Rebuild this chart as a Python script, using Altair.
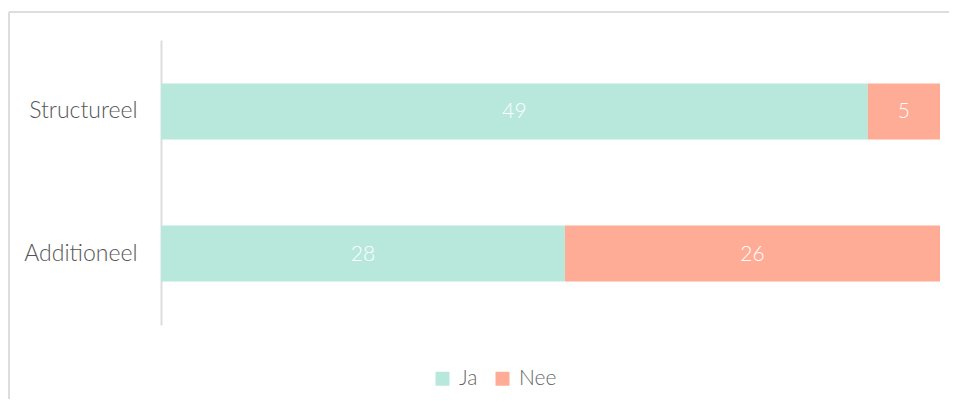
import altair as alt
import pandas as pd

categories = ["Structureel", "Structureel", "Additioneel", "Additioneel"]
answers = ["Ja", "Nee", "Ja", "Nee"]
counts = [49, 5, 28, 26]
order = [0, 1, 0, 1]

df = pd.DataFrame({"cat": categories, "ans": answers, "n": counts, "o": order})

FONT = "Lato"
color = alt.Color("ans:N", scale=alt.Scale(domain=["Ja", "Nee"], range=["#b8e8dc", "#ffac96"]),
                  legend=alt.Legend(title=None, orient="none", legendX=271, legendY=328,
                                    direction="horizontal", symbolType="square", symbolSize=196,
                                    symbolStrokeWidth=0, labelFontSize=21, labelFont=FONT,
                                    labelFontWeight=300, labelColor="#666666", columnPadding=14,
                                    labelOffset=6))

ycat = alt.Y("cat:N", sort=["Structureel", "Additioneel"],
             scale=alt.Scale(paddingInner=0.606, paddingOuter=0.306),
             axis=alt.Axis(title=None, ticks=False, labelPadding=24, labelFontSize=23,
                           labelFont=FONT, labelFontWeight=300, labelColor="#555555",
                           domainColor="#dddddd", domainWidth=2, grid=False))

base = alt.Chart(df).transform_stack(
    stack="n", groupby=["cat"], as_=["x0", "x1"], offset="normalize",
    sort=[alt.SortField("o", order="ascending")]
).transform_calculate(mid="(datum.x0 + datum.x1) / 2")

bars = base.mark_bar().encode(
    x=alt.X("x0:Q", axis=None, scale=alt.Scale(domain=[0, 1], nice=False)),
    x2="x1:Q",
    y=ycat,
    color=color,
)

labels = base.mark_text(color="white", fontSize=21, font=FONT, fontWeight=300, dy=1).encode(
    x=alt.X("mid:Q"),
    y=alt.Y("cat:N", sort=["Structureel", "Additioneel"]),
    text="n:Q",
)

top_rule = alt.Chart(df).mark_rule(color="#dddddd", strokeWidth=2).encode(
    x=alt.value(-152), x2=alt.value(820), y=alt.value(-28))
left_rule = alt.Chart(df).mark_rule(color="#dddddd", strokeWidth=2).encode(
    x=alt.value(-152), y=alt.value(-28), y2=alt.value(400))

chart = alt.layer(top_rule, left_rule, bars, labels).properties(
    width=779, height=285,
    autosize=alt.AutoSizeParams(type="none"),
    padding={"left": 153, "top": 32, "right": 9, "bottom": 74},
).configure_view(stroke=None)

chart.save("out.html", embed_options={"renderer": "svg", "actions": False})
